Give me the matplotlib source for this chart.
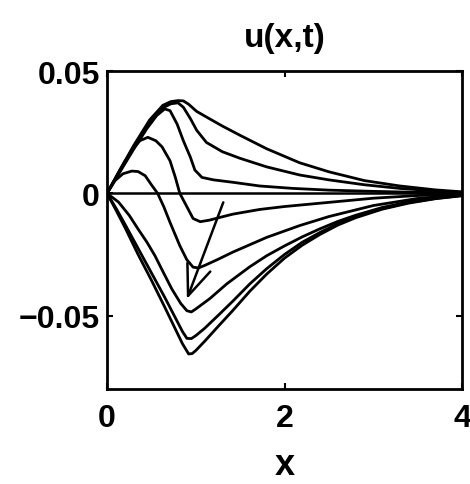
import numpy as np
import matplotlib
matplotlib.use("Agg")
import matplotlib.pyplot as plt

plt.rcParams['font.family'] = ['Liberation Sans', 'DejaVu Sans']

# ---- data ----
xA = [0, 0.15, 0.3, 0.48, 0.63, 0.72, 0.8, 0.86, 0.92, 1.01, 1.12, 1.3, 1.5, 1.8, 2.17, 2.5, 2.9, 3.3, 3.7, 4.0]
yA = [0, 0.0099, 0.0195, 0.0300, 0.0360, 0.0375, 0.0379, 0.0378, 0.0364, 0.0335, 0.0312, 0.0275, 0.0237, 0.0182, 0.0125, 0.0088, 0.0052, 0.0030, 0.0014, 0.0006]

xB = [0, 0.15, 0.3, 0.48, 0.62, 0.72, 0.8, 0.86, 0.94, 1.01, 1.12, 1.3, 1.5, 1.8, 2.17, 2.5, 2.9, 3.3, 3.7, 4.0]
yB = [0, 0.0095, 0.0188, 0.0290, 0.0348, 0.0366, 0.0370, 0.0352, 0.0305, 0.0258, 0.0208, 0.0170, 0.0143, 0.0108, 0.0075, 0.0055, 0.0035, 0.0020, 0.0010, 0.0004]

xC = [0, 0.15, 0.3, 0.45, 0.56, 0.65, 0.71, 0.79, 0.86, 0.94, 0.99, 1.07, 1.2, 1.42, 1.72, 2.1, 2.5, 3.0, 3.5, 4.0]
yC = [0, 0.0090, 0.0180, 0.0265, 0.0318, 0.0345, 0.0338, 0.0283, 0.0215, 0.0147, 0.0095, 0.0065, 0.0055, 0.0045, 0.0030, 0.0020, 0.0013, 0.0008, 0.0004, 0.0002]

xD = [0, 0.1, 0.2, 0.3, 0.37, 0.46, 0.55, 0.62, 0.71, 0.77, 0.82, 0.9, 0.97, 1.05, 1.15, 1.31, 1.42, 1.72, 2.0, 2.5, 3.0, 3.5, 4.0]
yD = [0, 0.0065, 0.0130, 0.0185, 0.0215, 0.0229, 0.0215, 0.0190, 0.0133, 0.0065, 0.0, -0.0055, -0.0103, -0.0116, -0.0110, -0.0095, -0.0085, -0.0066, -0.0054, -0.0037, -0.0020, -0.0009, -0.0003]

xE = [0, 0.09, 0.18, 0.28, 0.35, 0.43, 0.5, 0.57, 0.64, 0.71, 0.82, 0.9, 0.97, 1.03, 1.1, 1.25, 1.42, 1.8, 2.17, 2.5, 3.0, 3.5, 4.0]
yE = [0, 0.0052, 0.0080, 0.0091, 0.0089, 0.0072, 0.0035, 0.0, -0.0055, -0.0119, -0.0214, -0.0272, -0.0302, -0.0305, -0.0295, -0.0270, -0.0240, -0.0180, -0.0132, -0.0095, -0.0050, -0.0021, -0.0006]

xF = [0, 0.13, 0.25, 0.35, 0.45, 0.54, 0.63, 0.73, 0.83, 0.9, 0.95, 1.0, 1.16, 1.35, 1.61, 1.8, 2.0, 2.2, 2.4, 2.6, 2.8, 3.1, 3.4, 3.7, 4.0]
yF = [0, -0.0036, -0.0090, -0.0146, -0.0200, -0.0255, -0.0320, -0.0391, -0.0450, -0.0480, -0.0485, -0.0473, -0.0430, -0.0370, -0.0300, -0.0255, -0.0215, -0.0178, -0.0145, -0.0115, -0.0090, -0.0058, -0.0035, -0.0019, -0.0008]

xG = [0, 0.1, 0.2, 0.35, 0.5, 0.65, 0.75, 0.85, 0.9, 0.95, 1.0, 1.1, 1.25, 1.42, 1.61, 1.8, 2.0, 2.2, 2.4, 2.6, 2.8, 3.1, 3.4, 3.7, 4.0]
yG = [0, -0.0060, -0.0125, -0.0225, -0.0325, -0.0425, -0.0495, -0.0565, -0.0593, -0.0594, -0.0582, -0.0552, -0.0500, -0.0440, -0.0370, -0.0308, -0.0250, -0.0200, -0.0160, -0.0124, -0.0096, -0.0062, -0.0038, -0.0021, -0.0009]

xH = [0, 0.1, 0.2, 0.35, 0.5, 0.65, 0.75, 0.85, 0.92, 0.96, 1.0, 1.1, 1.25, 1.42, 1.61, 1.8, 2.0, 2.2, 2.4, 2.6, 2.8, 3.1, 3.4, 3.7, 4.0]
yH = [0, -0.0068, -0.0138, -0.0250, -0.0355, -0.0465, -0.0540, -0.0615, -0.0657, -0.0655, -0.0643, -0.0605, -0.0545, -0.0478, -0.0400, -0.0330, -0.0265, -0.0212, -0.0168, -0.0130, -0.0100, -0.0065, -0.0040, -0.0022, -0.0010]

curves = [(xA, yA), (xB, yB), (xC, yC), (xD, yD), (xE, yE), (xF, yF), (xG, yG), (xH, yH)]

arrow_start = (1.31, -0.0037)
arrow_end = (0.90, -0.0432)

xticks = [0, 2, 4]
xtick_labels = ['0', '2', '4']
yticks = [-0.05, 0, 0.05]
ytick_labels = ['\u22120.05', '0', '0.05']

# ---- figure ----
fig = plt.figure(figsize=(4.70, 4.85), dpi=100)
ax = fig.add_axes([0.2277, 0.1959, 0.983 - 0.2277, 0.8515 - 0.1959])

ax.axhline(0, color='black', lw=1.8)
for xs, ys in curves:
    ax.plot(xs, ys, color='black', lw=2.0, solid_joinstyle='round', solid_capstyle='round')

ax.annotate('', xy=arrow_end, xytext=arrow_start,
            arrowprops=dict(arrowstyle='->,head_length=1.0,head_width=0.4',
                            color='black', lw=1.8, mutation_scale=22,
                            shrinkA=0, shrinkB=0))

ax.set_xlim(0, 4)
ax.set_ylim(-0.08, 0.05)
ax.set_xticks(xticks)
ax.set_xticklabels(xtick_labels)
ax.set_yticks(yticks)
ax.set_yticklabels(ytick_labels)
ax.tick_params(direction='in', length=4, width=1.5, labelsize=23, pad=5,
               top=True, right=True)
ax.tick_params(axis='x', pad=10)
for lab in ax.get_xticklabels() + ax.get_yticklabels():
    lab.set_fontweight('bold')
for s in ax.spines.values():
    s.set_linewidth(2.0)

ax.set_title('u(x,t)', fontsize=24, fontweight='bold', pad=18)
ax.set_xlabel('x', fontsize=26, fontweight='bold', labelpad=10)

fig.savefig('out.png', dpi=100)
